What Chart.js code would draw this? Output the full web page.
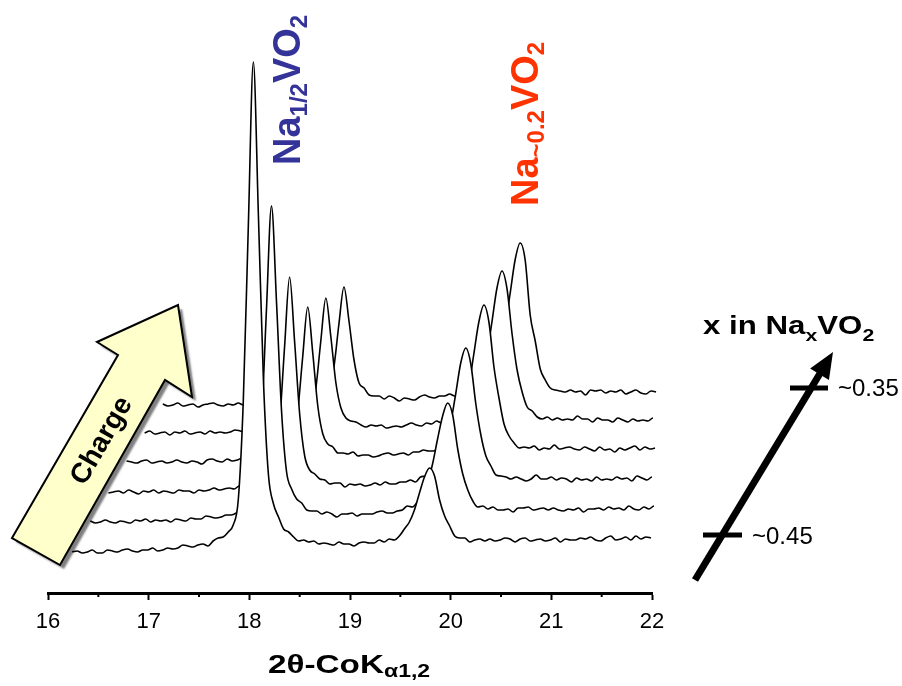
<!DOCTYPE html>
<html>
<head>
<meta charset="utf-8">
<script src="https://cdn.jsdelivr.net/npm/chart.js@4.4.0/dist/chart.umd.min.js"></script>
<style>
  html, body { margin: 0; padding: 0; background: #fff; }
  #wrap { width: 902px; height: 686px; }
</style>
</head>
<body>
<div id="wrap"><canvas id="myChart"></canvas></div>
<script>
const ctx = document.getElementById('myChart');

// 2theta sampling grid (deg), shared by all scans
const twoTheta = [
  16.24,16.29,16.34,16.39,16.44,16.49,16.54,16.59,16.64,16.69,
  16.74,16.79,16.84,16.89,16.94,16.99,17.04,17.09,17.14,17.19,
  17.24,17.29,17.34,17.39,17.44,17.49,17.54,17.59,17.64,17.69,
  17.74,17.79,17.84,17.89,17.94,17.99,18.04,18.09,18.14,18.19,
  18.24,18.29,18.34,18.39,18.44,18.49,18.54,18.59,18.64,18.69,
  18.74,18.79,18.84,18.89,18.94,18.99,19.04,19.09,19.14,19.19,
  19.24,19.29,19.34,19.39,19.44,19.49,19.54,19.59,19.64,19.69,
  19.74,19.79,19.84,19.89,19.94,19.99,20.04,20.09,20.14,20.19,
  20.24,20.29,20.34,20.39,20.44,20.49,20.54,20.59,20.64,20.69,
  20.74,20.79,20.84,20.89,20.94,20.99,21.04,21.09,21.14,21.19,
  21.24,21.29,21.34,21.39,21.44,21.49,21.54,21.59,21.64,21.69,
  21.74,21.79,21.84,21.89,21.94,21.99
];

// intensities (a.u.), first scan (x ~ 0.45) to last scan (x ~ 0.35)
const scan1 = [
  0,1,-1,0,2,-1,-1,2,1,0,
  2,3,1,0,2,2,4,1,2,4,
  3,4,7,6,5,7,8,6,11,14,
  15,20,27,52,151,326,490,337,172,77,
  48,35,23,20,15,11,12,10,11,8,
  9,8,7,10,8,8,6,9,10,9,
  9,12,10,13,12,16,23,30,42,59,
  75,84,76,52,36,26,16,14,14,10,
  12,13,11,13,11,12,14,13,10,13,
  14,11,12,13,11,12,14,10,13,12,
  12,14,13,15,12,11,14,16,12,13,
  15,12,16,13,15,14
];
const scan2 = [
  1,-1,0,2,0,-1,1,0,-1,2,
  1,3,0,2,1,2,0,3,2,1,
  4,3,3,6,5,4,5,7,7,9,
  13,13,18,36,98,212,316,220,111,50,
  33,23,19,12,11,11,8,10,8,5,
  8,8,9,6,8,8,8,10,11,9,
  9,11,12,16,15,20,28,39,58,83,
  106,119,107,73,48,32,21,15,16,13,
  15,12,12,13,10,14,14,15,12,13,
  14,12,14,12,11,13,12,14,10,13,
  13,14,12,15,13,14,12,16,13,12,
  15,13,16,12,15,14
];
const scan3 = [
  -1,0,1,-1,2,0,-2,1,0,2,
  -1,1,0,-1,2,1,1,-1,2,1,
  2,4,2,3,4,3,6,4,5,8,
  8,9,15,25,68,145,215,150,78,36,
  22,18,13,12,8,9,9,5,8,7,
  8,6,7,9,7,10,8,8,10,10,
  12,10,15,16,19,22,31,49,69,98,
  129,144,128,88,57,36,26,17,16,15,
  13,15,13,11,13,17,13,13,15,12,
  14,13,10,14,12,13,11,15,12,13,
  12,15,13,14,11,16,14,12,15,13,
  14,16,12,15,13,16
];
const scan4 = [
  1,0,-1,1,2,-1,0,1,-1,0,
  2,0,-1,1,0,-2,2,3,1,0,
  3,1,2,4,3,4,2,3,7,6,
  5,7,12,19,50,105,155,109,56,28,
  18,15,9,9,8,10,6,7,7,5,
  6,8,9,7,8,9,7,10,10,12,
  11,11,14,17,22,25,33,52,75,108,
  140,157,140,95,64,38,26,19,14,15,
  14,16,12,14,13,17,13,14,15,13,
  12,15,13,11,15,12,13,10,14,12,
  14,16,12,15,13,14,15,12,16,13,
  14,15,12,16,15,17
];
const scan5 = [
  0,2,-1,0,1,-2,1,0,2,-1,
  0,1,-1,2,0,1,0,1,3,2,
  1,2,3,1,4,3,5,2,4,6,
  6,8,9,17,44,92,135,96,50,25,
  15,12,11,8,6,8,7,8,5,6,
  7,6,8,10,8,7,10,9,12,10,
  11,13,13,19,20,26,35,52,78,111,
  145,162,144,99,63,41,26,22,16,14,
  16,13,15,13,14,13,17,14,14,11,
  15,13,13,11,15,13,11,14,12,13,
  12,15,13,16,14,12,15,13,14,16,
  13,15,14,16,13,18
];
const scan6 = [
  1,-1,0,2,-1,0,1,-2,0,1,
  2,0,-1,1,0,2,0,1,2,0,
  2,4,3,1,2,4,6,2,4,6,
  4,7,9,17,38,81,118,84,45,22,
  17,10,9,9,6,9,7,4,7,6,
  5,8,10,8,7,9,9,11,9,11,
  12,12,13,19,20,24,36,53,79,111,
  145,162,145,90,64,36,25,17,15,14,
  13,15,13,14,10,15,14,15,12,14,
  13,15,11,13,15,12,11,14,13,11,
  15,13,14,11,15,16,13,14,12,15,
  14,16,13,15,19,16
];

const scans = [scan1, scan2, scan3, scan4, scan5, scan6];
const scanOffsets = [41, 71, 101, 131, 160, 188];   // vertical stacking
const xShift = 0.18;                                // horizontal stacking per scan
const xTicks = [16, 17, 18, 19, 20, 21, 22];
const xMinorTicks = [16.5, 17.5, 18.5, 19.5, 20.5, 21.5];

const sans = "'Liberation Sans', Arial, Helvetica, sans-serif";
const narrow = "'Liberation Sans Narrow', 'Arial Narrow', 'Liberation Sans', Arial, sans-serif";

const datasets = scans.map((scan, i) => ({
    label: 'scan ' + (i + 1),
    data: scan.map((v, k) => ({ x: twoTheta[k] + i * xShift, y: v + scanOffsets[i] })),
    borderColor: '#000',
    borderWidth: 1.6,
    pointRadius: 0,
    cubicInterpolationMode: 'monotone',
    fill: { value: 4 },
    backgroundColor: '#fff',
    clip: false
}));

// text with sub/superscripts: parts = [[text, size, dy], ...]
function richText(c, parts, x, y, sx, bold) {
    c.save();
    c.translate(x, y);
    c.scale(sx, 1);
    let cx = 0;
    parts.forEach(p => {
        c.font = (bold ? 'bold ' : '') + p[1] + 'px ' + sans;
        c.fillText(p[0], cx, p[2] || 0);
        cx += c.measureText(p[0]).width;
    });
    c.restore();
}

const annotations = {
    id: 'annotations',
    afterDraw(chart) {
        const c = chart.ctx;
        const xs = chart.scales.x;
        const bottom = chart.chartArea.bottom;
        c.save();
        c.textBaseline = 'alphabetic';
        c.textAlign = 'left';

        // minor ticks
        c.strokeStyle = '#000';
        c.lineWidth = 2;
        xMinorTicks.forEach(v => {
            const px = xs.getPixelForValue(v);
            c.beginPath();
            c.moveTo(px, bottom);
            c.lineTo(px, bottom + 4);
            c.stroke();
        });

        // axis title
        c.fillStyle = '#000';
        richText(c, [['2\u03b8-CoK', 26, 0], ['\u03b11,2', 18, 4]], 268, 673, 1.28, true);

        // phase labels (vertical)
        c.save();
        c.translate(300, 165);
        c.rotate(-Math.PI / 2);
        c.fillStyle = '#333399';
        richText(c, [['Na', 38, 0], ['1/2', 24, 7], ['VO', 38, 0], ['2', 24, 7]], 0, 0, 1, true);
        c.restore();

        c.save();
        c.translate(538, 206);
        c.rotate(-Math.PI / 2);
        c.fillStyle = '#ff3300';
        richText(c, [['Na', 38, 0], ['~0.2', 24, 6], ['VO', 38, 0], ['2', 24, 6]], 0, 0, 1, true);
        c.restore();

        // x in NaxVO2
        c.fillStyle = '#000';
        richText(c, [['x in Na', 25, 0], ['x', 17, 7], ['VO', 25, 0], ['2', 17, 7]], 703, 334, 1.25, true);

        // composition arrow
        const sx0 = 695, sy0 = 580, tx = 833, ty = 352;
        const len = Math.hypot(tx - sx0, ty - sy0);
        const ux = (tx - sx0) / len, uy = (ty - sy0) / len;
        const bx = tx - 26 * ux, by = ty - 26 * uy;
        c.lineWidth = 7;
        c.lineCap = 'butt';
        c.beginPath();
        c.moveTo(sx0, sy0);
        c.lineTo(bx + 2 * ux, by + 2 * uy);
        c.stroke();
        c.beginPath();
        c.moveTo(tx, ty);
        c.lineTo(bx - 11 * uy, by + 11 * ux);
        c.lineTo(bx + 11 * uy, by - 11 * ux);
        c.closePath();
        c.fill();
        c.lineWidth = 5;
        c.beginPath();
        c.moveTo(790, 388); c.lineTo(828, 388);
        c.moveTo(703, 535); c.lineTo(742, 535);
        c.stroke();
        c.font = '24px ' + sans;
        c.textBaseline = 'middle';
        c.fillText('~0.35', 838, 389);
        c.fillText('~0.45', 752, 537);

        // "Charge" block arrow
        const pts = [[12, 538], [118, 355], [97, 342], [178, 305], [192, 397], [165, 380], [60, 565]];
        c.beginPath();
        pts.forEach((p, i) => i ? c.lineTo(p[0], p[1]) : c.moveTo(p[0], p[1]));
        c.closePath();
        c.save();
        c.shadowColor = 'rgba(0,0,0,0.5)';
        c.shadowOffsetX = 4;
        c.shadowOffsetY = 4;
        c.shadowBlur = 2;
        c.fillStyle = '#ffffcc';
        c.fill();
        c.restore();
        c.lineWidth = 2;
        c.lineJoin = 'miter';
        c.strokeStyle = '#000';
        c.stroke();
        c.save();
        c.translate(102, 441);
        c.rotate(Math.atan2(355 - 538, 118 - 12));
        c.font = 'bold 28px ' + sans;
        c.textAlign = 'center';
        c.textBaseline = 'middle';
        c.fillStyle = '#000';
        c.fillText('Charge', 0, 0);
        c.restore();

        c.restore();
    }
};

new Chart(ctx, {
    type: 'line',
    data: { datasets: datasets },
    options: {
        responsive: true,
        maintainAspectRatio: false,
        animation: false,
        layout: { padding: { left: 48, right: 250, top: 0, bottom: 0 } },
        plugins: {
            legend: { display: false },
            tooltip: { enabled: false }
        },
        scales: {
            x: {
                type: 'linear',
                min: 16,
                max: 22,
                afterFit: s => { s.height = 93; },
                afterBuildTicks: s => { s.ticks = xTicks.map(v => ({ value: v })); },
                ticks: {
                    color: '#000',
                    font: { family: narrow, size: 22 },
                    padding: 9,
                    maxRotation: 0,
                    autoSkip: false
                },
                grid: { drawOnChartArea: false, drawTicks: true, tickLength: 7, tickWidth: 2, tickColor: '#000' },
                border: { display: true, width: 3, color: '#000' }
            },
            y: { display: false, min: 0, max: 593 }
        }
    },
    plugins: [annotations]
});
</script>
</body>
</html>
